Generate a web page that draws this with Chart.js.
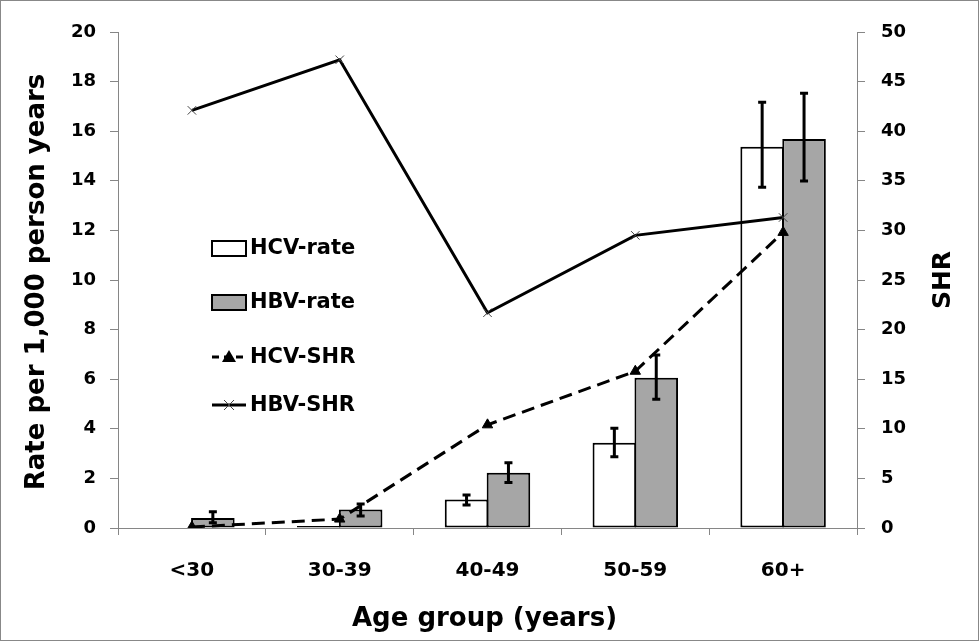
<!DOCTYPE html>
<html>
<head>
<meta charset="utf-8">
<title>Rate and SHR by age group</title>
<script src="https://cdn.jsdelivr.net/npm/chart.js@4.4.0/dist/chart.umd.min.js"></script>
<style>
  html, body { margin: 0; padding: 0; background: #fff; }
  #wrap { width: 979px; height: 641px; box-sizing: border-box; border: 1px solid #888; }
  canvas { display: block; }
</style>
</head>
<body>
<div id="wrap"><canvas id="chart" width="977" height="639"></canvas></div>
<script>
// data
const categories = ["<30", "30-39", "40-49", "50-59", "60+"];
const hcvRate = [0, 0.08, 1.15, 3.44, 15.37];
const hbvRate = [0.4, 0.75, 2.23, 6.06, 15.69];
const hcvLow = [null, null, 0.93, 2.87, 13.74];
const hcvHigh = [null, null, 1.33, 4.02, 17.17];
const hbvLow = [0.21, 0.48, 1.83, 5.19, 13.99];
const hbvHigh = [0.66, 0.97, 2.63, 6.98, 17.53];
const hcvShr = [0.1, 0.9, 10.4, 15.8, 29.8];
const hbvShr = [42.1, 47.2, 21.7, 29.5, 31.3];
const leftTicks = [0, 2, 4, 6, 8, 10, 12, 14, 16, 18, 20];
const rightTicks = [0, 5, 10, 15, 20, 25, 30, 35, 40, 45, 50];

const AXIS = "#868686";
const BOLD = "DejaVu Sans";

// error bars on top of the bars
const errorBars = {
  id: "errorBars",
  afterDatasetsDraw(chart) {
    const ctx = chart.ctx;
    const y = chart.scales.y;
    const sets = [[0, hcvLow, hcvHigh], [1, hbvLow, hbvHigh]];
    ctx.save();
    ctx.strokeStyle = "#000";
    ctx.lineWidth = 3;
    sets.forEach(([idx, lo, hi]) => {
      chart.getDatasetMeta(idx).data.forEach((bar, i) => {
        if (lo[i] == null) return;
        const x = bar.x, y1 = y.getPixelForValue(lo[i]), y2 = y.getPixelForValue(hi[i]);
        ctx.beginPath();
        ctx.moveTo(x, y1); ctx.lineTo(x, y2);
        ctx.moveTo(x - 4, y1); ctx.lineTo(x + 4, y1);
        ctx.moveTo(x - 4, y2); ctx.lineTo(x + 4, y2);
        ctx.stroke();
      });
    });
    ctx.restore();
  }
};

// legend sitting inside the plot, left side
const innerLegend = {
  id: "innerLegend",
  afterDraw(chart) {
    const ctx = chart.ctx, a = chart.chartArea;
    const rows = [216, 270, 325, 373];
    const bx = a.left + 94, bw = 34;
    ctx.save();
    ctx.font = "bold 21px '" + BOLD + "'";
    ctx.textBaseline = "middle";
    ctx.fillStyle = "#000";
    chart.data.datasets.forEach((ds, i) => {
      const cy = a.top + rows[i];
      if (ds.type === "line") {
        ctx.strokeStyle = "#000";
        ctx.lineWidth = 3;
        ctx.setLineDash(ds.borderDash ? [7, 5] : []);
        ctx.beginPath(); ctx.moveTo(bx, cy); ctx.lineTo(bx + bw, cy); ctx.stroke();
        ctx.setLineDash([]);
        if (ds.pointStyle === "triangle") {
          ctx.beginPath();
          ctx.moveTo(bx + 17, cy - 7); ctx.lineTo(bx + 24, cy + 5); ctx.lineTo(bx + 10, cy + 5);
          ctx.closePath(); ctx.fill();
        } else {
          ctx.strokeStyle = "#444"; ctx.lineWidth = 1;
          ctx.beginPath();
          ctx.moveTo(bx + 12, cy - 5); ctx.lineTo(bx + 22, cy + 5);
          ctx.moveTo(bx + 22, cy - 5); ctx.lineTo(bx + 12, cy + 5);
          ctx.stroke();
        }
      } else {
        ctx.fillStyle = ds.backgroundColor;
        ctx.fillRect(bx, cy - 7, bw, 15);
        ctx.strokeStyle = "#000"; ctx.lineWidth = 2;
        ctx.strokeRect(bx, cy - 7, bw, 15);
        ctx.fillStyle = "#000";
      }
      ctx.fillText(ds.label, bx + 38, cy + 1);
    });
    ctx.restore();
  }
};

// axis titles, centred on their axes
function rotatedText(ctx, text, x, y, size) {
  ctx.save();
  ctx.fillStyle = "#000";
  ctx.textAlign = "center";
  ctx.textBaseline = "middle";
  ctx.font = "bold " + size + "px '" + BOLD + "'";
  ctx.translate(x, y);
  ctx.rotate(-Math.PI / 2);
  ctx.fillText(text, 0, 0);
  ctx.restore();
}

const axisTitles = {
  id: "axisTitles",
  afterDraw(chart) {
    const ctx = chart.ctx, a = chart.chartArea;
    const midY = (a.top + a.bottom) / 2;
    rotatedText(ctx, "Rate per 1,000 person years", a.left - 81, midY + 2, 26);
    rotatedText(ctx, "SHR", a.right + 86, midY, 25);

    ctx.save();
    ctx.fillStyle = "#000";
    ctx.textAlign = "center";
    ctx.textBaseline = "middle";
    ctx.font = "bold 26px '" + BOLD + "'";
    ctx.fillText("Age group (years)", (a.left + a.right) / 2 - 3, a.bottom + 91);
    ctx.restore();
  }
};

const barStyle = { borderColor: "#000", borderWidth: 2, borderSkipped: false,
                   categoryPercentage: 0.567, barPercentage: 1.04, yAxisID: "y", order: 2 };

new Chart(document.getElementById("chart"), {
  type: "bar",
  data: {
    labels: categories,
    datasets: [
      { label: "HCV-rate", data: hcvRate, backgroundColor: "#ffffff", ...barStyle },
      { label: "HBV-rate", data: hbvRate, backgroundColor: "#a6a6a6", ...barStyle },
      { type: "line", label: "HCV-SHR", data: hcvShr, yAxisID: "y1", order: 1,
        borderColor: "#000", borderWidth: 3, borderDash: [13, 7], tension: 0,
        pointStyle: "triangle", pointRadius: 6, pointBackgroundColor: "#000", pointBorderColor: "#000", pointBorderWidth: 1 },
      { type: "line", label: "HBV-SHR", data: hbvShr, yAxisID: "y1", order: 1,
        borderColor: "#000", borderWidth: 3, tension: 0,
        pointStyle: "crossRot", pointRadius: 6, pointBorderColor: "#444", pointBorderWidth: 1 }
    ]
  },
  options: {
    responsive: false,
    animation: false,
    layout: { padding: { top: 31, left: 0, right: 0, bottom: 0 } },
    plugins: { legend: { display: false }, tooltip: { enabled: false } },
    scales: {
      x: {
        offset: true,
        grid: { offset: true, drawOnChartArea: false, tickLength: 7, color: AXIS },
        border: { color: AXIS, width: 1 },
        ticks: { color: "#000", font: { family: BOLD, weight: "bold", size: 20 }, padding: 24 },
        afterFit: s => { s.height = 112; }
      },
      y: {
        position: "left", min: 0, max: 20,
        afterBuildTicks: s => { s.ticks = leftTicks.map(v => ({ value: v })); },
        grid: { drawOnChartArea: false, tickLength: 8, color: AXIS },
        border: { color: AXIS, width: 1 },
        ticks: { color: "#000", font: { family: BOLD, weight: "bold", size: 18 }, padding: 14 },
        afterFit: s => { s.width = 117; }
      },
      y1: {
        position: "right", min: 0, max: 50,
        afterBuildTicks: s => { s.ticks = rightTicks.map(v => ({ value: v })); },
        grid: { drawOnChartArea: false, tickLength: 8, color: AXIS },
        border: { color: AXIS, width: 1 },
        ticks: { color: "#000", font: { family: BOLD, weight: "bold", size: 18 }, padding: 16 },
        afterFit: s => { s.width = 121; }
      }
    }
  },
  plugins: [errorBars, innerLegend, axisTitles]
});
</script>
</body>
</html>
